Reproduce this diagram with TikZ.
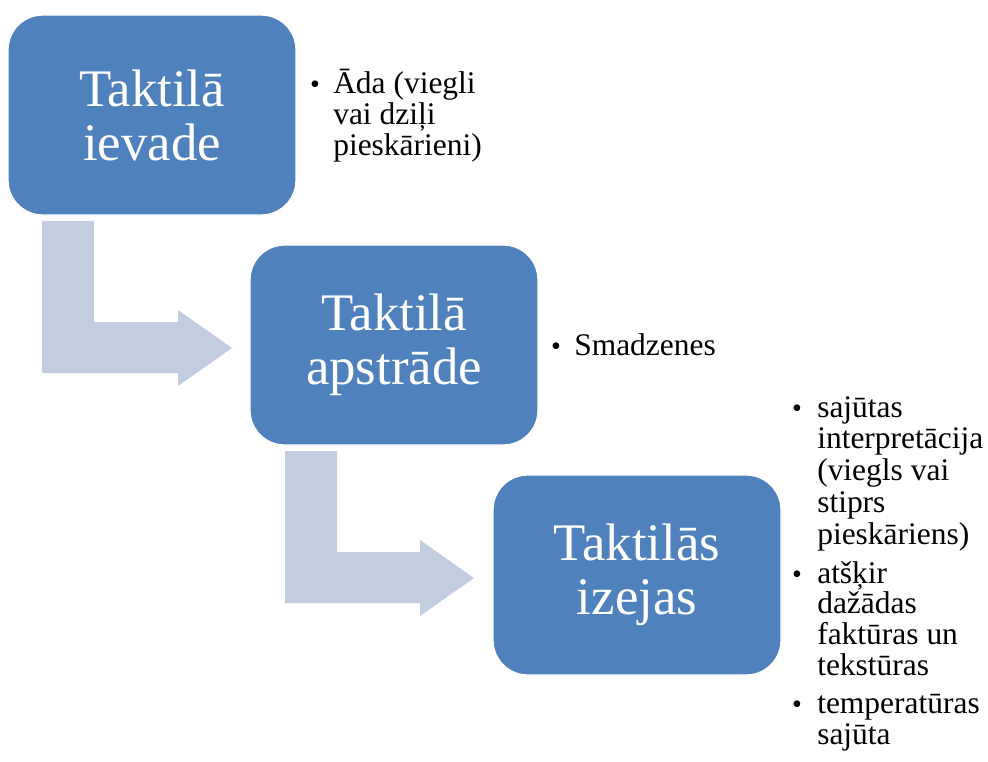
\documentclass[tikz,border=0pt]{standalone}
\usepackage{fontspec}
\setmainfont{Liberation Serif}
\definecolor{boxblue}{HTML}{4F81BD}
\definecolor{arrowgray}{HTML}{C3CDE0}
\begin{document}
\begin{tikzpicture}[x=0.75pt,y=-0.75pt,
 stagebox/.style={rectangle, rounded corners=26pt, fill=boxblue, draw=white, line width=1pt,
   minimum width=216pt, minimum height=150pt, inner sep=0pt, text=white, align=center,
   font=\fontsize{39.6}{40.5}\selectfont},
 linetext/.style={anchor=base west, inner sep=0pt, font=\fontsize{23.6}{25}\selectfont},
 bulletmark/.style={anchor=base, inner sep=0pt, font=\fontsize{21}{25}\selectfont},
 bendarrow/.style={fill=arrowgray, draw=none}]
\useasboundingbox (0,0) rectangle (988,761);
% bent arrows
\fill[bendarrow] (42,221) -- (94,221) -- (94,322) -- (178,322) -- (178,310) -- (232,348)
  -- (178,386) -- (178,373) -- (42,373) -- cycle;
\fill[bendarrow] (285,451) -- (337,451) -- (337,552) -- (420,552) -- (420,540) -- (474,578)
  -- (420,616) -- (420,603) -- (285,603) -- cycle;
% boxes
\node[stagebox] (b1) at (152,115) {Taktilā\\ievade};
\node[stagebox] (b2) at (394,345) {Taktilā\\apstrāde};
\node[stagebox] (b3) at (637,575) {Taktilās\\izejas};
% bullets of box 1
\node[bulletmark] (m1) at (315,93) {•};
\foreach \t/\y [count=\i] in {{Āda (viegli}/93, {vai dziļi}/124, {pieskārieni)}/155}
  \node[linetext] (l1-\i) at (333,\y) {\t};
% bullets of box 2
\node[bulletmark] (m2) at (556,355) {•};
\node[linetext] (l2-1) at (574,355) {Smadzenes};
% bullets of box 3
\node[bulletmark] (m3a) at (797,417) {•};
\node[bulletmark] (m3b) at (797,583) {•};
\node[bulletmark] (m3c) at (797,713) {•};
\foreach \t/\y [count=\i] in {{sajūtas}/417, {interpretācija}/448, {(viegls vai}/480, {stiprs}/512,
   {pieskāriens)}/544, {atšķir}/583, {dažādas}/613, {faktūras un}/644, {tekstūras}/675,
   {temperatūras}/713, {sajūta}/744}
  \node[linetext] (l3-\i) at (817,\y) {\t};
\end{tikzpicture}
\end{document}
